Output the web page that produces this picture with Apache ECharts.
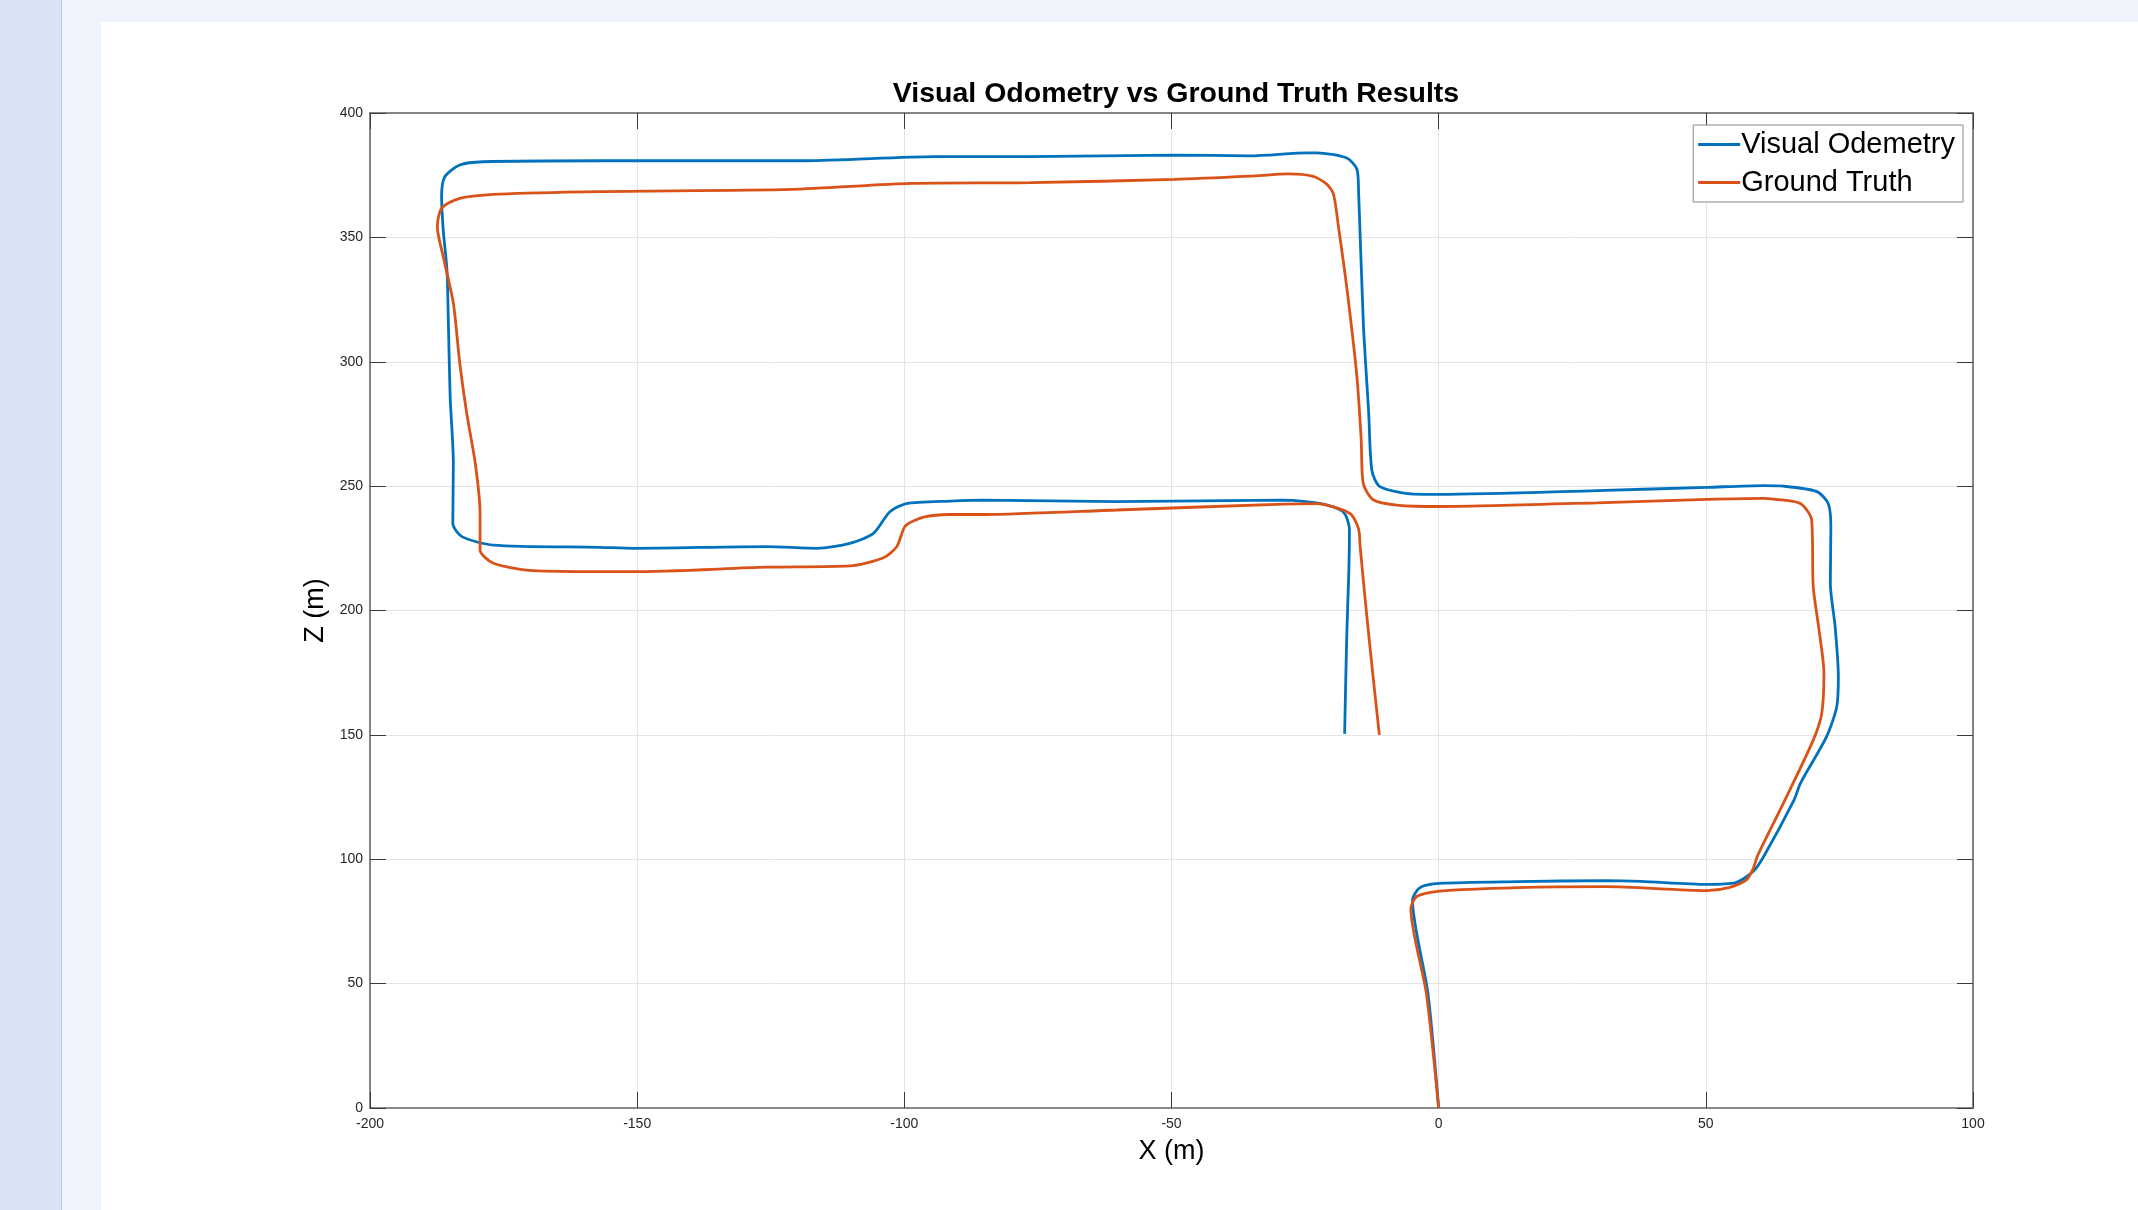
<!DOCTYPE html>
<html>
<head>
<meta charset="utf-8">
<script src="https://cdn.jsdelivr.net/npm/echarts@6/dist/echarts.min.js"></script>
<style>
  html, body { margin: 0; padding: 0; width: 2138px; height: 1210px; overflow: hidden; background: #eef3fc; }
  #side { position: absolute; left: 0; top: 0; width: 61px; height: 1210px; background: #d9e3f4; border-right: 1px solid #b7c9ec; }
  #panel { position: absolute; left: 101px; top: 22px; right: 0; bottom: 0; background: #ffffff; }
  #chart { position: absolute; left: 0; top: 0; width: 2138px; height: 1210px; }
</style>
</head>
<body>
<div id="side"></div>
<div id="panel"></div>
<div id="chart"></div>
<script>
// ---- data (X, Z in metres) ----
const titleText = 'Visual Odometry vs Ground Truth Results';
const xName = 'X (m)';
const yName = 'Z (m)';
const seriesNames = ['Visual Odemetry', 'Ground Truth'];
const xTicks = [-200, -150, -100, -50, 0, 50, 100];
const yTicks = [0, 50, 100, 150, 200, 250, 300, 350, 400];

const visualOdometry = [
  [0, 0], [-2.0, 46], [-4.9, 83.6], [-3.5, 88.6], [0.2, 90.3], [14.9, 91.0], [31.3, 91.4],
  [37.9, 91.1], [50.2, 89.9], [55.6, 90.6], [58.9, 95.2], [60.8, 101.0], [66.5, 123.8],
  [67.7, 130.5], [72.6, 149.3], [74.5, 161.3], [74.8, 173.4], [74.2, 193.5], [73.3, 210.9],
  [73.4, 233.7], [72.9, 243.0], [70.8, 247.8], [64.5, 250.0], [60.8, 250.2], [50.2, 249.5],
  [29.6, 248.2], [0.3, 246.7], [-4.7, 246.8], [-11.0, 249.8], [-12.5, 256.3], [-13.1, 279.6],
  [-14.1, 315.5], [-15.0, 369.3], [-15.3, 377.4], [-17.2, 381.9], [-22.8, 384.0], [-24.4, 384.0],
  [-35.3, 382.8], [-49.5, 383.1], [-76.4, 382.5], [-94.3, 382.5], [-118.5, 380.8], [-157.0, 380.8],
  [-178.8, 380.4], [-183.2, 379.1], [-186.0, 374.4], [-186.6, 366.4], [-186.3, 353.0],
  [-185.6, 336.9], [-185.3, 312.8], [-185.0, 286.0], [-184.4, 259.2], [-184.5, 235.1],
  [-182.8, 229.7], [-176.9, 226.3], [-157.0, 225.4], [-150.7, 225.0], [-125.8, 225.7],
  [-116.4, 225.0], [-110.2, 227.0], [-105.8, 231.0], [-102.7, 239.7], [-99.6, 243.0],
  [-91.4, 244.0], [-85.2, 244.4], [-60.3, 243.8], [-29.0, 244.4], [-21.6, 242.8],
  [-17.8, 239.5], [-16.7, 232.6], [-16.8, 216.8], [-17.2, 189.9], [-17.6, 150.4]
];

const groundTruth = [
  [0, 0], [-2.3, 46], [-5.2, 80.1], [-4.1, 85.0], [0.2, 87.2], [14.9, 88.6], [31.3, 89.0],
  [50.2, 87.4], [54.3, 88.6], [57.6, 91.7], [58.8, 96.0], [59.8, 102.0], [64.8, 123.8],
  [70.1, 147.9], [71.7, 158.7], [72.1, 174.8], [71.1, 193.5], [70.1, 209.6], [69.8, 236.4],
  [67.7, 243.0], [63.0, 244.7], [60.8, 245.1], [50.2, 244.7], [29.6, 243.3], [0.3, 241.8],
  [-7.9, 242.4], [-12.2, 244.4], [-14.1, 250.9], [-14.5, 268.8], [-15.3, 294.0], [-17.2, 329.9],
  [-18.8, 355.0], [-19.7, 367.5], [-21.0, 371.5], [-23.5, 374.5], [-28.0, 375.5], [-35.3, 374.6],
  [-49.5, 373.3], [-76.4, 372.0], [-98.7, 371.7], [-121.1, 369.3], [-157.0, 368.4],
  [-175.7, 367.4], [-183.2, 365.7], [-186.6, 361.7], [-187.4, 354.3], [-186.3, 342.3],
  [-184.4, 323.5], [-183.2, 299.4], [-181.9, 279.3], [-180.3, 259.2], [-179.4, 239.1],
  [-179.4, 224.3], [-176.9, 219.0], [-169.4, 216.0], [-157.0, 215.6], [-150.7, 215.6],
  [-125.8, 217.4], [-110.2, 217.9], [-103.9, 221.2], [-101.4, 225.7], [-99.8, 234.0],
  [-96.4, 237.5], [-91.4, 238.6], [-85.2, 238.6], [-60.3, 240.4], [-29.0, 242.8],
  [-22.9, 243.0], [-16.6, 239.0], [-15.0, 232.9], [-14.7, 225.8], [-13.5, 198.9],
  [-12.2, 171.9], [-11.1, 150.0]
];

const colors = ['#0072BD', '#D95319'];

// ---- chart ----
const FONT = '"Liberation Sans", Arial, Helvetica, sans-serif';
const xMin = xTicks[0], xMax = xTicks[xTicks.length - 1], xInt = xTicks[1] - xTicks[0];
const yMin = yTicks[0], yMax = yTicks[yTicks.length - 1], yInt = yTicks[1] - yTicks[0];
const axisLine = { show: true, onZero: false, lineStyle: { color: '#5f5f5f', width: 1.5 } };
const tick = { show: true, inside: true, length: 16, lineStyle: { color: '#3a3a3a', width: 1 } };

const chart = echarts.init(document.getElementById('chart'), null, { renderer: 'canvas' });
chart.setOption({
  backgroundColor: 'transparent',
  animation: false,
  title: {
    text: titleText,
    left: 1171, top: 75, textAlign: 'center',
    textStyle: { fontFamily: FONT, fontSize: 28.5, fontWeight: 'bold', color: '#000' }
  },
  legend: {
    orient: 'vertical',
    right: 2138 - 1963, top: 125,
    backgroundColor: '#fff',
    borderColor: '#8a8a8a', borderWidth: 1, borderRadius: 0,
    padding: [5, 8, 5, 5],
    itemGap: 9,
    itemWidth: 42, itemHeight: 3,
    icon: 'rect',
    textStyle: { fontFamily: FONT, fontSize: 29, color: '#000', lineHeight: 29, padding: [0, 0, 0, -4] },
    data: seriesNames
  },
  grid: { left: 370, right: 2138 - 1973, top: 113, bottom: 1210 - 1108, containLabel: false },
  xAxis: [
    {
      type: 'value', min: xMin, max: xMax, interval: xInt, position: 'bottom',
      name: xName, nameLocation: 'middle', nameGap: 30,
      nameTextStyle: { fontFamily: FONT, fontSize: 27, color: '#000' },
      axisLine: { show: true, onZero: false, lineStyle: { color: '#8a8a8a', width: 2 } }, axisTick: tick,
      axisLabel: { fontFamily: FONT, fontSize: 14, color: '#262626', margin: 9 },
      splitLine: { show: true, lineStyle: { color: '#e4e4e4', width: 1 } }
    },
    {
      type: 'value', min: xMin, max: xMax, interval: xInt, position: 'top',
      axisLine: axisLine, axisTick: tick, axisLabel: { show: false }, splitLine: { show: false }
    }
  ],
  yAxis: [
    {
      type: 'value', min: yMin, max: yMax, interval: yInt, position: 'left',
      name: yName, nameLocation: 'middle', nameGap: 35, nameRotate: 90,
      nameTextStyle: { fontFamily: FONT, fontSize: 27, color: '#000' },
      axisLine: axisLine, axisTick: tick,
      axisLabel: { fontFamily: FONT, fontSize: 14, color: '#262626', margin: 7 },
      splitLine: { show: true, lineStyle: { color: '#e4e4e4', width: 1 } }
    },
    {
      type: 'value', min: yMin, max: yMax, interval: yInt, position: 'right',
      axisLine: axisLine, axisTick: tick, axisLabel: { show: false }, splitLine: { show: false }
    }
  ],
  series: [
    {
      name: seriesNames[0], type: 'line', data: visualOdometry,
      xAxisIndex: 0, yAxisIndex: 0,
      symbol: 'none', smooth: 0.25,
      lineStyle: { color: colors[0], width: 2.8 }, itemStyle: { color: colors[0] }
    },
    {
      name: seriesNames[1], type: 'line', data: groundTruth,
      xAxisIndex: 0, yAxisIndex: 0,
      symbol: 'none', smooth: 0.25,
      lineStyle: { color: colors[1], width: 2.8 }, itemStyle: { color: colors[1] }
    }
  ]
});
</script>
</body>
</html>
